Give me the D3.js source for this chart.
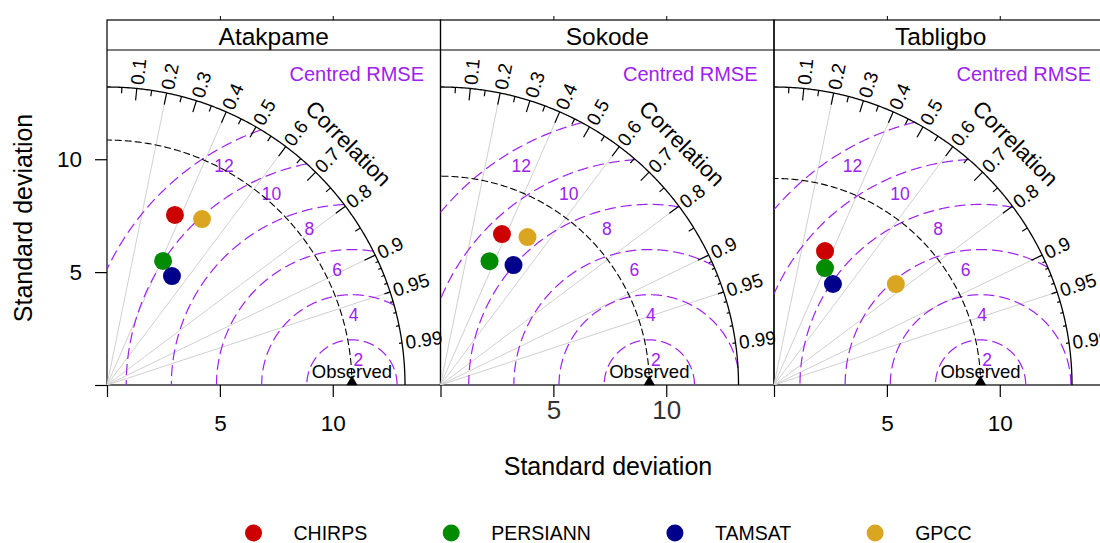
<!DOCTYPE html>
<html>
<head>
<meta charset="utf-8">
<script src="https://cdn.jsdelivr.net/npm/d3@7"></script>
<style>
  body { margin: 0; background: #fff; }
  svg { display: block; font-family: "Liberation Sans", Arial, sans-serif; }
</style>
</head>
<body>
<svg id="chart" width="1100" height="543"></svg>
<script>
// stations (one panel each) and products
const stations = ["Atakpame", "Sokode", "Tabligbo"];
const products = ["CHIRPS", "PERSIANN", "TAMSAT", "GPCC"];
const productColors = ["#cc0000", "#008b00", "#00008b", "#daa520"];

// observed standard deviation per station
const observedSd = [10.85, 9.25, 9.15];

// standard deviation per product, per station
const sdCHIRPS = [8.11, 7.22, 6.35];
const sdPERSIANN = [6.03, 5.90, 5.65];
const sdTAMSAT = [5.62, 6.22, 5.18];
const sdGPCC = [8.47, 7.60, 7.01];

// correlation per product, per station
const corCHIRPS = [0.371, 0.377, 0.356];
const corPERSIANN = [0.412, 0.368, 0.400];
const corTAMSAT = [0.512, 0.520, 0.504];
const corGPCC = [0.497, 0.507, 0.770];

const sdByProduct = [sdCHIRPS, sdPERSIANN, sdTAMSAT, sdGPCC];
const corByProduct = [corCHIRPS, corPERSIANN, corTAMSAT, corGPCC];

// axis / grid values
const sdTicks = [0, 5, 10];
const rmsLevels = [2, 4, 6, 8, 10, 12];
const corrLabels = [0.1, 0.2, 0.3, 0.4, 0.5, 0.6, 0.7, 0.8, 0.9, 0.95, 0.99];
const corrMajor = [0.1, 0.2, 0.3, 0.4, 0.5, 0.6, 0.7, 0.8, 0.9];
const corrMedium = [0.05, 0.15, 0.25, 0.35, 0.45, 0.55, 0.65, 0.75, 0.85, 0.95];
const corrMinor = [0.91, 0.92, 0.93, 0.94, 0.95, 0.96, 0.97, 0.98, 0.99];
const corrGrid = [0.2, 0.4, 0.6, 0.8, 0.9, 0.95];
const sdMax = 13.2;
const axisMax = 14.75;

const rmsCol = "#a020f0";
const gridCol = "#d0d0d0";

const svg = d3.select("#chart");

const panelLeft = 107;
const panelW = 333.5;
const stripTop = 20;
const stripBottom = 50;
const baseY = 385;

stations.forEach((station, i) => {
    const x0 = panelLeft + i * panelW;
    const x = d3.scaleLinear().domain([0, axisMax]).range([x0, x0 + 333]);
    const y = d3.scaleLinear().domain([0, axisMax]).range([baseY, baseY - 333]);
    const polar = (r, a) => [x(r * Math.cos(a)), y(r * Math.sin(a))];
    const line = d3.line();
    const obs = observedSd[i];

    const g = svg.append("g").attr("class", "panel");

    // panel box + strip
    g.append("rect")
        .attr("x", x0).attr("y", stripTop)
        .attr("width", panelW).attr("height", baseY - stripTop)
        .attr("fill", "none").attr("stroke", "#000").attr("stroke-width", 1.2);
    g.append("line")
        .attr("x1", x0).attr("x2", x0 + panelW)
        .attr("y1", stripBottom).attr("y2", stripBottom)
        .attr("stroke", "#000").attr("stroke-width", 1.2);
    g.append("text")
        .attr("x", x0 + panelW / 2).attr("y", 45)
        .attr("text-anchor", "middle")
        .attr("font-size", "24.5px")
        .text(station);

    // correlation grid lines from origin
    g.append("g").selectAll("line")
        .data(corrGrid)
        .join("line")
        .attr("x1", x(0)).attr("y1", y(0))
        .attr("x2", d => polar(sdMax, Math.acos(d))[0])
        .attr("y2", d => polar(sdMax, Math.acos(d))[1])
        .attr("stroke", gridCol).attr("stroke-width", 1);

    // centred RMSE circles around the observed point
    const rmsG = g.append("g");
    rmsLevels.forEach((lev, k) => {
        let cMin = (sdMax * sdMax - obs * obs - lev * lev) / (2 * obs * lev);
        const aStart = Math.acos(Math.max(-1, Math.min(1, cMin)));
        const aEnd = Math.acos(Math.max(-1, Math.min(1, -obs / lev)));
        const angles = d3.range(aStart, aEnd, 0.005).concat([aEnd]);
        rmsG.append("path")
            .attr("d", line(angles.map(a => [x(obs + lev * Math.cos(a)), y(lev * Math.sin(a))])))
            .attr("fill", "none")
            .attr("stroke", rmsCol)
            .attr("stroke-width", 1.2)
            .attr("stroke-dasharray", "11,5");
        const la = (81.7 + 7.3 * k) * Math.PI / 180;
        rmsG.append("text")
            .attr("x", x(obs + lev * Math.cos(la)))
            .attr("y", y(lev * Math.sin(la)) + 20)
            .attr("text-anchor", "middle")
            .attr("dominant-baseline", "central")
            .attr("font-size", "17.5px")
            .attr("fill", rmsCol)
            .text(lev);
    });

    // outer arc and observed arc
    const quarter = d3.range(0, Math.PI / 2, 0.005).concat([Math.PI / 2]);
    g.append("path")
        .attr("d", line(quarter.map(a => polar(sdMax, a))))
        .attr("fill", "none").attr("stroke", "#000").attr("stroke-width", 1.3);
    g.append("path")
        .attr("d", line(quarter.map(a => polar(obs, a))))
        .attr("fill", "none").attr("stroke", "#000").attr("stroke-width", 1.1)
        .attr("stroke-dasharray", "7,3");

    // correlation ticks
    const ticks = [
        ...corrMajor.map(c => ({ c, len: 0.96 })),
        ...corrMedium.map(c => ({ c, len: 0.98 })),
        ...corrMinor.map(c => ({ c, len: 0.99 }))
    ];
    g.append("g").selectAll("line")
        .data(ticks)
        .join("line")
        .attr("x1", d => polar(sdMax, Math.acos(d.c))[0])
        .attr("y1", d => polar(sdMax, Math.acos(d.c))[1])
        .attr("x2", d => polar(sdMax * d.len, Math.acos(d.c))[0])
        .attr("y2", d => polar(sdMax * d.len, Math.acos(d.c))[1])
        .attr("stroke", "#000").attr("stroke-width", 1.2);

    g.append("g").selectAll("text")
        .data(corrLabels)
        .join("text")
        .attr("transform", d => {
            const a = Math.acos(d);
            const p = polar(sdMax * 1.012, a);
            return `translate(${p[0]},${p[1]}) rotate(${-a * 180 / Math.PI})`;
        })
        .attr("dominant-baseline", "central")
        .attr("font-size", "19px")
        .text(d => d);

    const cp = polar(sdMax * 1.145, Math.PI / 4);
    g.append("text")
        .attr("transform", `translate(${cp[0]},${cp[1]}) rotate(45)`)
        .attr("text-anchor", "middle")
        .attr("dominant-baseline", "central")
        .attr("font-size", "22.5px")
        .text("Correlation");

    g.append("text")
        .attr("x", x0 + 317).attr("y", 74)
        .attr("text-anchor", "end")
        .attr("dominant-baseline", "central")
        .attr("font-size", "20px")
        .attr("fill", rmsCol)
        .text("Centred RMSE");

    // observed point
    g.append("path")
        .attr("d", d3.symbol(d3.symbolTriangle, 55)())
        .attr("transform", `translate(${x(obs)},${y(0) - 3})`)
        .attr("fill", "#000");
    g.append("text")
        .attr("x", x(obs)).attr("y", 371)
        .attr("text-anchor", "middle")
        .attr("dominant-baseline", "central")
        .attr("font-size", "18.5px")
        .text("Observed");

    // product points
    const rows = products.map((p, k) => ({
        name: p,
        color: productColors[k],
        sd: sdByProduct[k][i],
        cor: corByProduct[k][i]
    }));
    g.append("g").selectAll("circle")
        .data(rows)
        .join("circle")
        .attr("cx", d => polar(d.sd, Math.acos(d.cor))[0])
        .attr("cy", d => polar(d.sd, Math.acos(d.cor))[1])
        .attr("r", 9)
        .attr("fill", d => d.color);

    // x axis (bottom ticks + labels)
    const middle = i === 1;
    const xAxis = d3.axisBottom(x)
        .tickValues(sdTicks)
        .tickSize(12)
        .tickPadding(middle ? 4 : 18)
        .tickFormat(d => d === 0 ? "" : d);
    const xa = g.append("g")
        .attr("transform", `translate(0,${baseY})`)
        .call(xAxis);
    xa.select(".domain").remove();
    xa.selectAll("text")
        .attr("font-size", middle ? "26px" : "22.5px")
        .attr("font-family", "Liberation Sans, Arial, sans-serif")
        .attr("fill", middle ? "#333" : "#000");
    xa.selectAll("line").attr("stroke-width", 1.2);

    // small top ticks
    const ta = g.append("g")
        .attr("transform", `translate(0,${stripTop})`)
        .call(d3.axisTop(x).tickValues([5, 10]).tickSize(4).tickFormat(""));
    ta.select(".domain").remove();

    if (i === 0) {
        const ya = g.append("g")
            .attr("transform", `translate(${x0},0)`)
            .call(d3.axisLeft(y)
                .tickValues(sdTicks)
                .tickSize(12)
                .tickPadding(13)
                .tickFormat(d => d === 0 ? "" : d));
        ya.select(".domain").remove();
        ya.selectAll("text")
            .attr("font-size", "22.5px")
            .attr("font-family", "Liberation Sans, Arial, sans-serif");
        ya.selectAll("line").attr("stroke-width", 1.2);
    }
});

// axis titles
svg.append("text")
    .attr("transform", "translate(23,218) rotate(-90)")
    .attr("text-anchor", "middle")
    .attr("dominant-baseline", "central")
    .attr("font-size", "25px")
    .text("Standard deviation");
svg.append("text")
    .attr("x", 608).attr("y", 466)
    .attr("text-anchor", "middle")
    .attr("dominant-baseline", "central")
    .attr("font-size", "25px")
    .text("Standard deviation");

// legend, centred under the panels
const legend = svg.append("g");
const items = legend.selectAll("g")
    .data(products)
    .join("g");
items.append("circle")
    .attr("r", 8.5)
    .attr("fill", (d, k) => productColors[k]);
items.append("text")
    .attr("x", 40)
    .attr("dominant-baseline", "central")
    .attr("font-size", "19.5px")
    .text(d => d);
let offset = 0;
items.each(function() {
    const w = this.querySelector("text").getComputedTextLength();
    d3.select(this).attr("transform", `translate(${offset},533)`);
    offset += 40 + w + 84;
});
const legendW = offset - 84 + 9;
legend.attr("transform", `translate(${608 - legendW / 2 + 9},0)`);
</script>
</body>
</html>
